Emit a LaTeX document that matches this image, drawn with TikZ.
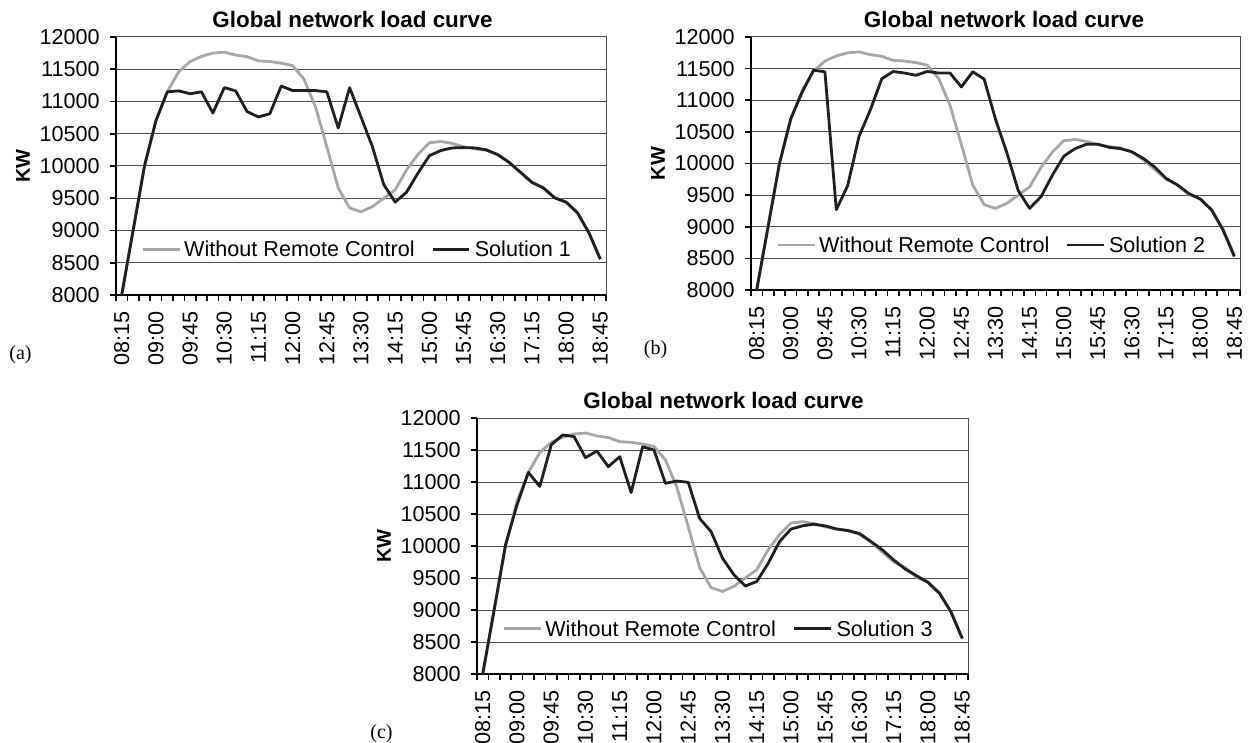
\documentclass[tikz,border=0pt]{standalone}
\usepackage{fontspec}
\setmainfont{Liberation Sans}
\newfontfamily\letterfont{Liberation Serif}

\tikzset{
  grid line/.style={black!70, line width=0.5pt},
  axis line/.style={black, line width=0.8pt},
  load base/.style={black!35, line width=1.4pt, line join=round},
  load sol/.style={black!88, line width=1.4pt, line join=round},
  tick label/.style={inner sep=0pt},
}

\def\baseload{8000,9000,10000,10700,11150,11460,11620,11700,11750,11765,11720,11695,11630,11620,11595,11555,11345,10920,10300,9660,9350,9290,9370,9500,9630,9940,10180,10360,10380,10350,10300,10265,10245,10180,10060,9905,9750,9665,9510,9440,9270,8965,8555}

% one chart: shift, width, height (px), letter, solution, title shift, data
\newcommand{\loadchart}[7]{%
  \pgfmathsetmacro{\cw}{#2*0.5/43}%
  \pgfmathsetmacro{\ch}{#3*0.5/4}%
  \begin{scope}[shift={#1}, x=\cw pt, y=\ch pt]
    \foreach \v in {0.5,1,...,3.5}
      \draw[grid line] (0,\v) -- (43,\v);
    \draw[grid line] (0,4) -- (43,4) -- (43,0);
    \draw[axis line] (0,4) -- (0,0) -- (43,0);
    \foreach \k in {0,...,43}
      \draw[axis line] (\k,0) -- ++(0,-3pt);
    \foreach \v in {8000,8500,...,12000} {
      \draw[axis line] (0,\v/1000-8) -- ++(-3pt,0);
      \node[tick label, anchor=east, xshift=-8pt] at (0,\v/1000-8) {\v};
    }
    \foreach \t [count=\k from 0] in {08:15,09:00,09:45,10:30,11:15,12:00,12:45,13:30,14:15,15:00,15:45,16:30,17:15,18:00,18:45}
      \node[tick label, yshift=-8pt, rotate=90, anchor=east] at (3*\k+0.5,0) {\t};
    \node[font=\fontsize{11.2}{13}\bfseries, xshift=#6] at (21.5,4) [yshift=9pt] {Global network load curve};
    \node[font=\bfseries, xshift=-46.5pt, rotate=90] at (0,2) {KW};
    \node[font=\letterfont, xshift=-47.75pt, yshift=-29.75pt] at (0,0) {(#4)};
    % curves
    \draw[load base] (0.5,0) \foreach \v [count=\i from 0] in \baseload {-- (\i+0.5,\v/1000-8)};
    \draw[load sol] (0.5,0) \foreach \v [count=\i from 0] in {#7} {-- (\i+0.5,\v/1000-8)};
    % legend
    \draw[load base] (2.4,0.71) -- (5.6,0.71);
    \node[tick label, anchor=west] at (5.95,0.71) {Without Remote Control};
    \draw[load sol] (27.8,0.71) -- (31.0,0.71);
    \node[tick label, anchor=west] at (31.45,0.71) {Solution #5};
  \end{scope}}

\begin{document}
\begin{tikzpicture}[x=0.5pt, y=-0.5pt, font=\fontsize{10.8}{12.5}\selectfont]
  \useasboundingbox (0,0) rectangle (1252,743);
  \loadchart{(116,295)}{490}{258}{a}{1}{-4.25pt}{8000,9000,10000,10700,11150,11165,11120,11150,10820,11215,11165,10845,10760,10810,11240,11170,11170,11170,11150,10590,11215,10760,10300,9710,9440,9595,9890,10160,10240,10280,10285,10280,10250,10175,10055,9900,9745,9660,9505,9440,9275,8965,8555}
  \loadchart{(751,290)}{489}{253}{b}{2}{4.25pt}{8000,9000,10000,10710,11130,11475,11450,9270,9650,10430,10850,11340,11455,11430,11395,11455,11430,11430,11210,11450,11335,10700,10170,9570,9290,9475,9815,10115,10235,10305,10305,10255,10235,10185,10080,9945,9765,9660,9525,9440,9265,8950,8530}
  \loadchart{(477,674)}{491}{256}{c}{3}{0.5pt}{8000,9000,10020,10640,11150,10930,11580,11735,11710,11380,11485,11240,11395,10835,11550,11500,10980,11015,10995,10430,10225,9810,9550,9375,9445,9730,10070,10265,10315,10340,10315,10265,10240,10195,10070,9940,9780,9640,9535,9430,9260,8975,8555}
\end{tikzpicture}
\end{document}
